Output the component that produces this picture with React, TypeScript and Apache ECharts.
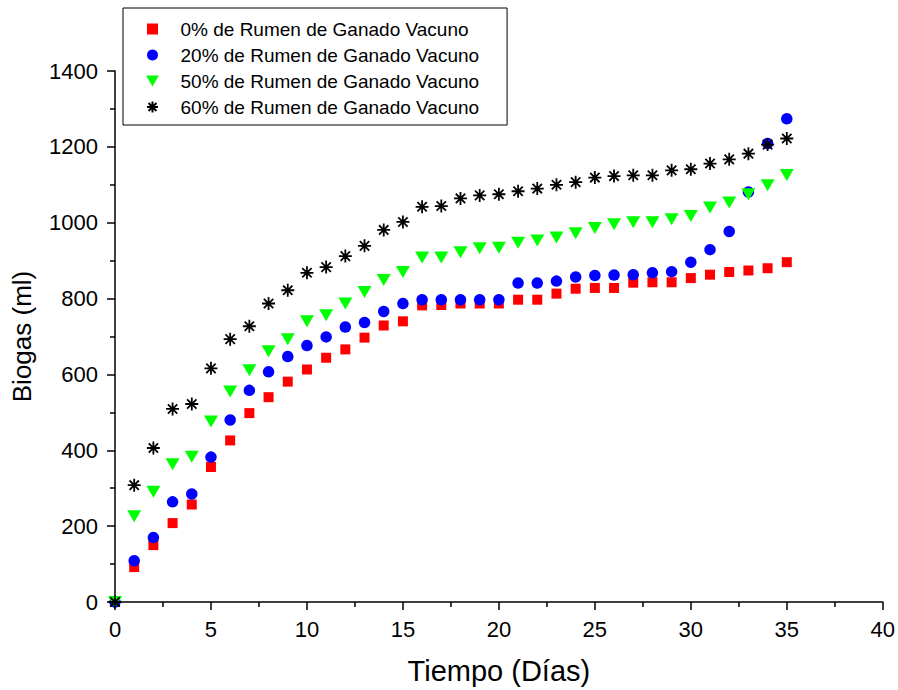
import React, { useEffect, useRef } from "react";
import * as echarts from "echarts";

const days = [0, 1, 2, 3, 4, 5, 6, 7, 8, 9, 10, 11, 12, 13, 14, 15, 16, 17, 18, 19, 20, 21, 22, 23, 24, 25, 26, 27, 28, 29, 30, 31, 32, 33, 34, 35];
const rumen0 = [0, 92, 150, 208, 257, 356, 426, 498, 540, 581, 613, 644, 666, 697, 729, 740, 782, 783, 787, 787, 787, 797, 797, 813, 826, 828, 828, 842, 843, 843, 854, 863, 870, 874, 880, 896];
const rumen20 = [0, 109, 170, 264, 285, 382, 480, 558, 607, 647, 676, 699, 725, 737, 766, 787, 797, 797, 797, 797, 797, 841, 841, 846, 857, 861, 862, 863, 868, 871, 896, 929, 977, 1081, 1209, 1274];
const rumen50 = [0, 226, 291, 363, 383, 476, 555, 611, 661, 693, 740, 756, 787, 817, 849, 870, 908, 908, 922, 933, 934, 947, 953, 961, 972, 986, 996, 1001, 1001, 1009, 1018, 1040, 1053, 1075, 1099, 1126];
const rumen60 = [0, 308, 406, 509, 522, 616, 693, 727, 787, 822, 868, 883, 912, 939, 981, 1002, 1042, 1044, 1064, 1072, 1075, 1083, 1090, 1100, 1107, 1119, 1123, 1125, 1125, 1138, 1141, 1156, 1167, 1182, 1206, 1222];

const seriesNames = [
  "0% de Rumen de Ganado Vacuno",
  "20% de Rumen de Ganado Vacuno",
  "50% de Rumen de Ganado Vacuno",
  "60% de Rumen de Ganado Vacuno",
];
const xTicks = [0, 5, 10, 15, 20, 25, 30, 35, 40];
const yTicks = [0, 200, 400, 600, 800, 1000, 1200, 1400];

const FONT = "'Liberation Sans', Arial, sans-serif";

const pair = (vals: number[]) => days.map((d, i) => [d, vals[i]]);

export default function App() {
  const ref = useRef<HTMLDivElement>(null);
  useEffect(() => {
    if (!ref.current) return;
    const chart = echarts.init(ref.current, null, { renderer: "svg" });
    const axisCommon = {
      axisLine: { show: true, lineStyle: { color: "#000", width: 1.5 } },
      axisTick: { show: true, inside: false, length: 8, lineStyle: { color: "#000", width: 1.5 } },
      minorTick: { show: true, splitNumber: 2, length: 5, lineStyle: { color: "#000", width: 1.5 } },
      splitLine: { show: false },
    };
    chart.setOption({
      animation: false,
      backgroundColor: "#fff",
      grid: { left: 115, right: 15, top: 71, bottom: 85, containLabel: false },
      xAxis: {
        type: "value",
        min: xTicks[0],
        max: xTicks[xTicks.length - 1],
        interval: 5,
        name: "Tiempo (Días)",
        nameLocation: "middle",
        nameGap: 54,
        nameTextStyle: { fontFamily: FONT, fontSize: 29, color: "#000" },
        axisLabel: { fontFamily: FONT, fontSize: 22, color: "#000", margin: 16, formatter: (v: number) => String(v) },
        ...axisCommon,
      },
      yAxis: {
        type: "value",
        min: yTicks[0],
        max: yTicks[yTicks.length - 1],
        interval: 200,
        name: "Biogas (ml)",
        nameLocation: "middle",
        nameGap: 80,
        nameTextStyle: { fontFamily: FONT, fontSize: 26, color: "#000" },
        axisLabel: { fontFamily: FONT, fontSize: 22, color: "#000", margin: 17, formatter: (v: number) => String(v) },
        ...axisCommon,
      },
      legend: {
        orient: "vertical",
        left: 123,
        top: 8,
        padding: [11, 28, 8, 23],
        itemWidth: 46,
        itemHeight: 11,
        itemGap: 6,
        borderColor: "#000",
        borderWidth: 1,
        textStyle: { fontFamily: FONT, fontSize: 19, color: "#000", lineHeight: 20 },
        data: seriesNames,
      },
      series: [
        {
          name: seriesNames[0],
          type: "scatter",
          symbol: "path://M0,0L1,0L1,1L0,1Z",
          symbolKeepAspect: true,
          symbolSize: 10,
          itemStyle: { color: "#ff0000", opacity: 1 },
          data: pair(rumen0),
        },
        {
          name: seriesNames[1],
          type: "scatter",
          symbol: "circle",
          symbolSize: 11.5,
          itemStyle: { color: "#0000ff", opacity: 1 },
          data: pair(rumen20),
        },
        {
          name: seriesNames[2],
          type: "scatter",
          symbol: "path://M0,0L2,0L1,1.73Z",
          symbolSize: [14, 12],
          itemStyle: { color: "#00ff00", opacity: 1 },
          data: pair(rumen50),
        },
        {
          name: seriesNames[3],
          type: "scatter",
          symbol: "path://M0,-1L0,1M-1,0L1,0M-0.72,-0.72L0.72,0.72M-0.72,0.72L0.72,-0.72",
          symbolSize: 13,
          itemStyle: { color: "#000", borderColor: "#000", borderWidth: 1.8, opacity: 1 },
          data: pair(rumen60),
        },
      ],
    });
    return () => chart.dispose();
  }, []);
  return (
    <div
      ref={ref}
      style={{ position: "fixed", left: 0, top: 0, width: 898, height: 690, background: "#fff" }}
    />
  );
}
